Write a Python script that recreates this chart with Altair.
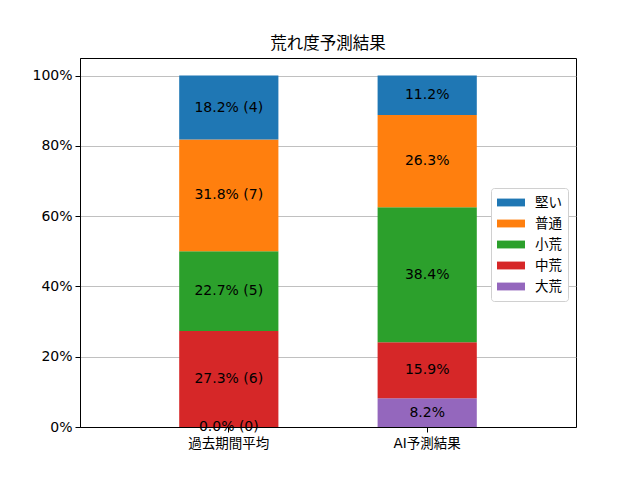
import altair as alt
import pandas as pd

categories = ["過去期間平均", "AI予測結果"]
classes = ["大荒", "中荒", "小荒", "普通", "堅い"]  # bottom -> top
past_pct = [0.0, 27.3, 22.7, 31.8, 18.2]
past_cnt = [0, 6, 5, 7, 4]
ai_pct = [8.2, 15.9, 38.4, 26.3, 11.2]
legend_order = ["堅い", "普通", "小荒", "中荒", "大荒"]
colors = ["#1f77b4", "#ff7f0e", "#2ca02c", "#d62728", "#9467bd"]

rows = []
for i, c in enumerate(classes):
    rows.append({"cat": categories[0], "cls": c, "ord": i, "value": past_pct[i],
                 "label": f"{past_pct[i]:.1f}% ({past_cnt[i]})"})
for i, c in enumerate(classes):
    rows.append({"cat": categories[1], "cls": c, "ord": i, "value": ai_pct[i],
                 "label": f"{ai_pct[i]:.1f}%"})
df = pd.DataFrame(rows)

FONT = "DejaVu Sans, Noto Sans CJK JP"
FS = 14

base = alt.Chart(df).transform_stack(
    stack="value", as_=["y0", "y1"], groupby=["cat"], sort=[alt.SortField("ord")]
).transform_calculate(mid="(datum.y0 + datum.y1) / 2")

xenc = alt.X("cat:N", sort=categories, title=None,
             scale=alt.Scale(paddingInner=0.5, paddingOuter=0.5),
             axis=alt.Axis(labelAngle=0, labelFontSize=13.5, labelColor="black",
                           tickColor="black", domainColor="black", tickSize=5,
                           labelPadding=4, labelFont=FONT))
yscale = alt.Scale(domain=[0, 105], nice=False)

bars = base.mark_bar().encode(
    x=xenc,
    y=alt.Y("y0:Q", scale=yscale, title=None,
            axis=alt.Axis(values=[0, 20, 40, 60, 80, 100],
                          labelExpr="datum.value + '%'", labelFontSize=FS,
                          labelColor="black", tickColor="black", domainColor="black",
                          tickSize=5, labelPadding=3, grid=True,
                          gridColor="#b0b0b0", gridWidth=0.8, labelFont=FONT)),
    y2="y1:Q",
    color=alt.Color("cls:N", scale=alt.Scale(domain=legend_order, range=colors),
                    title=None,
                    legend=alt.Legend(orient="none", legendX=411, legendY=130,
                                      fillColor="white", strokeColor="#d0d0d0",
                                      cornerRadius=3, padding=6,
                                      symbolType="M-1,-0.28L1,-0.28L1,0.28L-1,0.28Z",
                                      symbolSize=784, symbolStrokeWidth=0,
                                      clipHeight=17,
                                      labelFontSize=13.5, labelFont=FONT,
                                      labelColor="black", rowPadding=4,
                                      symbolOffset=0, labelOffset=10)),
    order=alt.Order("ord:Q"),
)

texts = base.mark_text(fontSize=FS, font=FONT, color="black").encode(
    x=alt.X("cat:N", sort=categories),
    y=alt.Y("mid:Q", scale=yscale),
    text="label:N",
)

chart = alt.layer(bars, texts).properties(
    width=496, height=369,
    title=alt.TitleParams("荒れ度予測結果", fontSize=16.5, fontWeight="normal",
                          font=FONT, color="black", offset=6),
    autosize=alt.AutoSizeParams(type="none"),
    padding={"left": 72, "top": 50, "right": 10, "bottom": 50},
).configure_view(stroke="black", strokeWidth=1).configure_axis(grid=False)

chart = chart.configure_axisY(grid=True)

chart.save("out.html", embed_options={"renderer": "svg", "actions": False})
